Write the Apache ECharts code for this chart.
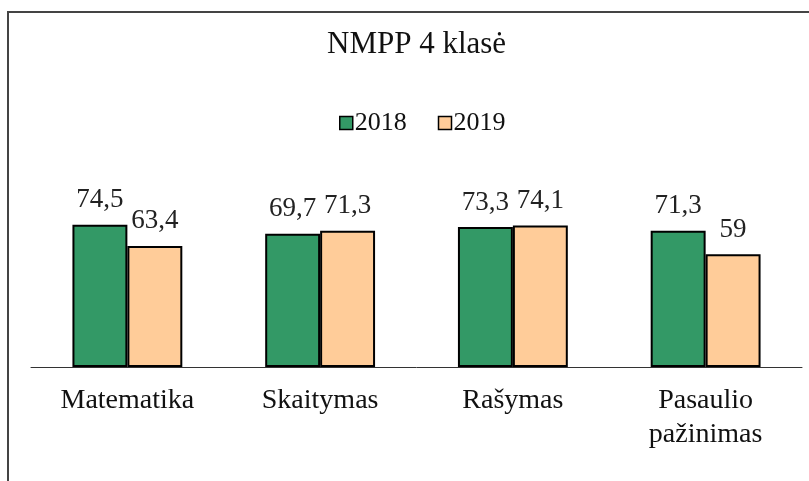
<!DOCTYPE html>
<html>
<head>
<meta charset="utf-8">
<script src="https://cdn.jsdelivr.net/npm/echarts@6/dist/echarts.min.js"></script>
<style>
  html, body { margin: 0; padding: 0; background: #fff; }
  #chart { width: 809px; height: 481px; }
</style>
</head>
<body>
<div id="chart"></div>
<script>
var categories = ['Matematika', 'Skaitymas', 'Rašymas', 'Pasaulio\npažinimas'];
var seriesNames = ['2018', '2019'];
var values2018 = [74.5, 69.7, 73.3, 71.3];
var values2019 = [63.4, 71.3, 74.1, 59];

var serif = '"Liberation Serif", "Times New Roman", serif';

function fmt(p) {
  // kablelis kaip dešimtainis skyriklis
  return String(p.value).replace('.', ',');
}

var myChart = echarts.init(document.getElementById('chart'));

var option = {
  animation: false,
  backgroundColor: '#fff',
  graphic: [{
    type: 'rect',
    shape: { x: 8, y: 12, width: 900, height: 600 },
    style: { fill: 'none', stroke: '#444', lineWidth: 2 },
    silent: true
  }],
  title: {
    text: 'NMPP 4 klasė',
    left: 327,
    top: 29,
    padding: 0,
    textStyle: { fontFamily: serif, fontSize: 31, fontWeight: 'normal', color: '#111' }
  },
  legend: {
    data: seriesNames,
    left: 339,
    top: 110,
    padding: 0,
    itemWidth: 13,
    itemHeight: 13,
    itemGap: 31,
    icon: 'rect',
    itemStyle: { borderColor: '#000', borderWidth: 1.5 },
    textStyle: { fontFamily: serif, fontSize: 26, color: '#111', padding: [0, 0, 0, -3] }
  },
  grid: { left: 31, right: 7, top: 176, bottom: 114, containLabel: false },
  xAxis: {
    type: 'category',
    data: categories,
    axisLine: { lineStyle: { color: '#333', width: 1 } },
    axisTick: { length: 7, lineStyle: { color: '#333' } },
    axisLabel: {
      fontFamily: serif, fontSize: 28, color: '#111', margin: 17, lineHeight: 34,
      interval: 0
    }
  },
  yAxis: {
    type: 'value',
    min: 0,
    max: 100,
    show: false
  },
  series: [{
    name: seriesNames[0],
    type: 'bar',
    data: values2018,
    barGap: '0%',
    barCategoryGap: '43%',
    itemStyle: { color: '#339966', borderColor: '#000', borderWidth: 2 },
    label: {
      show: true, position: 'top', distance: 11, formatter: fmt,
      fontFamily: serif, fontSize: 27, color: '#222'
    }
  }, {
    name: seriesNames[1],
    type: 'bar',
    data: values2019,
    itemStyle: { color: '#FFCC99', borderColor: '#000', borderWidth: 2 },
    label: {
      show: true, position: 'top', distance: 11, formatter: fmt,
      fontFamily: serif, fontSize: 27, color: '#222'
    }
  }]
};

myChart.setOption(option);
</script>
</body>
</html>
